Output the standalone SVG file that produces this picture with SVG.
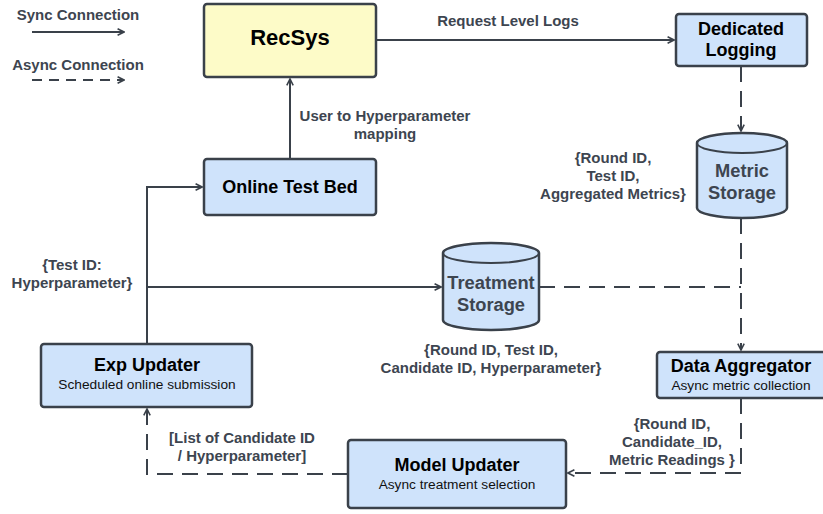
<svg xmlns="http://www.w3.org/2000/svg" width="823" height="514" viewBox="0 0 823 514">
<defs>
<style>
.box{fill:#cfe3fb;stroke:#3a414a;stroke-width:2.5}
.ybox{fill:#fdfbc8;stroke:#3a414a;stroke-width:2.5}
.ln{fill:none;stroke:#3a414a;stroke-width:2}
.ds{fill:none;stroke:#3a414a;stroke-width:2;stroke-dasharray:16 9}
.t{font-family:"Liberation Sans",Arial,sans-serif;font-weight:bold;fill:#000;text-anchor:middle;font-size:18px}
.big{font-size:22px}
.s{font-family:"Liberation Sans",Arial,sans-serif;font-size:13.7px;fill:#111;text-anchor:middle}
.l{font-family:"Liberation Sans",Arial,sans-serif;font-weight:bold;font-size:15px;fill:#3d4550;text-anchor:middle}
.c{font-family:"Liberation Sans",Arial,sans-serif;font-weight:bold;font-size:18.3px;fill:#3d4550;text-anchor:middle}
</style>
<marker id="a" viewBox="0 0 10 10" refX="9" refY="5" markerWidth="8" markerHeight="8" markerUnits="userSpaceOnUse" orient="auto">
<path d="M1,1 L9,5 L1,9" fill="none" stroke="#3a414a" stroke-width="2"/>
</marker>
</defs>
<g id="legend">
<text class="l" x="78" y="20">Sync Connection</text>
<line class="ln" x1="32" y1="32" x2="124" y2="32" marker-end="url(#a)"/>
<text class="l" x="78" y="70">Async Connection</text>
<line x1="32" y1="80" x2="124" y2="80" stroke="#3a414a" stroke-width="2" stroke-dasharray="10 7" marker-end="url(#a)"/>
</g>
<g id="connectors">
<line class="ln" x1="290" y1="159" x2="290" y2="79" marker-end="url(#a)"/>
<line class="ln" x1="376" y1="40" x2="674" y2="40" marker-end="url(#a)"/>
<line class="ds" x1="741" y1="66" x2="741" y2="131" marker-end="url(#a)"/>
<line class="ds" x1="741" y1="218" x2="741" y2="350" marker-end="url(#a)"/>
<polyline class="ln" points="147,344 147,187 202,187" marker-end="url(#a)"/>
<line class="ln" x1="147" y1="287" x2="441" y2="287" marker-end="url(#a)"/>
<line class="ds" x1="539" y1="287" x2="741" y2="287"/>
<polyline class="ds" points="741,398 741,473 568,473" marker-end="url(#a)"/>
<polyline class="ds" points="348,474 147,474 147,409" marker-end="url(#a)"/>
<text class="l" x="385" y="121">User to Hyperparameter</text>
<text class="l" x="385" y="139">mapping</text>
<text class="l" x="508" y="26">Request Level Logs</text>
<text class="l" x="613" y="163">{Round ID,</text>
<text class="l" x="613" y="181">Test ID,</text>
<text class="l" x="613" y="199">Aggregated Metrics}</text>
<text class="l" x="72" y="270">{Test ID:</text>
<text class="l" x="72" y="288">Hyperparameter}</text>
<text class="l" x="491" y="355">{Round ID, Test ID,</text>
<text class="l" x="491" y="373">Candidate ID, Hyperparameter}</text>
<text class="l" x="672" y="429">{Round ID,</text>
<text class="l" x="672" y="447">Candidate_ID,</text>
<text class="l" x="672" y="465">Metric Readings }</text>
<text class="l" x="242" y="443">[List of Candidate ID</text>
<text class="l" x="242" y="461">/ Hyperparameter]</text>
</g>
<g id="recsys">
<rect class="ybox" x="204" y="4" width="172" height="73" rx="3"/>
<text class="t big" x="290" y="45">RecSys</text>
</g>
<g id="online-test-bed">
<rect class="box" x="204" y="159" width="172" height="56" rx="3"/>
<text class="t" x="290" y="193">Online Test Bed</text>
</g>
<g id="dedicated-logging">
<rect class="box" x="676" y="14" width="131" height="52" rx="3"/>
<text class="t" x="741" y="35">Dedicated</text>
<text class="t" x="741" y="56">Logging</text>
</g>
<g id="metric-storage">
<path class="box" d="M697,143 A45,10 0 0 1 787,143 L787,208 A45,10 0 0 1 697,208 Z"/>
<path class="ln" d="M697,143 A45,10 0 0 0 787,143" stroke-width="2.5"/>
<text class="c" x="742" y="177">Metric</text>
<text class="c" x="742" y="199">Storage</text>
</g>
<g id="treatment-storage">
<path class="box" d="M443,253 A48,10 0 0 1 539,253 L539,320 A48,10 0 0 1 443,320 Z"/>
<path class="ln" d="M443,253 A48,10 0 0 0 539,253" stroke-width="2.5"/>
<text class="c" x="491" y="289">Treatment</text>
<text class="c" x="491" y="311">Storage</text>
</g>
<g id="data-aggregator">
<rect class="box" x="657" y="352" width="170" height="46" rx="3"/>
<text class="t" x="741" y="372">Data Aggregator</text>
<text class="s" x="741" y="390">Async metric collection</text>
</g>
<g id="exp-updater">
<rect class="box" x="41" y="344" width="211" height="63" rx="3"/>
<text class="t" x="147" y="371">Exp Updater</text>
<text class="s" x="147" y="389">Scheduled online submission</text>
</g>
<g id="model-updater">
<rect class="box" x="348" y="440" width="218" height="68" rx="3"/>
<text class="t" x="457" y="471">Model Updater</text>
<text class="s" x="457" y="489">Async treatment selection</text>
</g>
</svg>
